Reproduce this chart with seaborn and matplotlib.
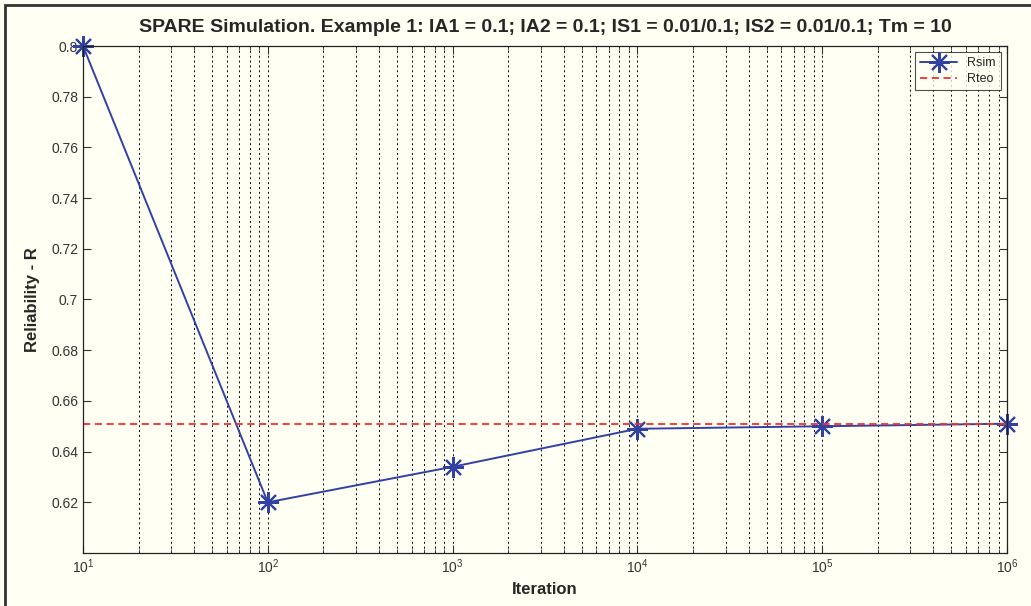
import pandas as pd
import seaborn as sns
import matplotlib.pyplot as plt
from matplotlib.patches import Rectangle
from matplotlib.ticker import LogLocator, NullFormatter

# Data
iterations = [10, 100, 1000, 10000, 100000, 1000000]
r_sim = [0.800, 0.620, 0.634, 0.649, 0.650, 0.651]
r_teo = 0.6508
y_ticks = [0.62, 0.64, 0.66, 0.68, 0.70, 0.72, 0.74, 0.76, 0.78, 0.80]
y_tick_labels = ["0.62", "0.64", "0.66", "0.68", "0.7", "0.72", "0.74", "0.76", "0.78", "0.8"]

df = pd.DataFrame({"Iteration": iterations, "Rsim": r_sim})

sns.set_style("ticks")
plt.rcParams['font.family'] = ['Liberation Sans', 'DejaVu Sans']
bg = '#fffff4'
blue = '#3142a3'

fig = plt.figure(figsize=(10.31, 6.06), dpi=100, facecolor=bg)
ax = fig.add_axes([83 / 1031, 1 - 553 / 606, (1007 - 83) / 1031, (553 - 46) / 606])
ax.set_facecolor(bg)

sns.lineplot(data=df, x="Iteration", y="Rsim", ax=ax, color=blue, linewidth=1.4,
             marker=(8, 2, 0), markersize=15, markeredgewidth=1.5,
             markeredgecolor=blue, label='Rsim')
for ln in ax.lines:
    ln.set_clip_on(False)
ax.axhline(r_teo, color='#f23030', linestyle='--', linewidth=1.3, dashes=(4, 2.5), label='Rteo')

ax.set_xscale('log')
ax.set_xlim(10, 1e6)
ax.set_ylim(0.6, 0.8)
ax.set_yticks(y_ticks)
ax.set_yticklabels(y_tick_labels)
ax.xaxis.set_minor_locator(LogLocator(base=10, subs=range(2, 10)))
ax.xaxis.set_minor_formatter(NullFormatter())
ax.grid(True, which='both', axis='x', color='black', linestyle=(0, (2, 3)), linewidth=0.7)

ax.tick_params(which='both', direction='in', top=True, right=True, labelsize=10, colors='#333333')
ax.tick_params(which='major', length=6)
ax.tick_params(which='minor', length=3)
for s in ax.spines.values():
    s.set_color('#222222')
    s.set_linewidth(0.9)

ax.set_xlabel("Iteration", fontsize=12, fontweight='bold')
ax.set_ylabel("Reliability - R", fontsize=12, fontweight='bold', labelpad=8)
ax.set_title("SPARE Simulation. Example 1: IA1 = 0.1; IA2 = 0.1; IS1 = 0.01/0.1; IS2 = 0.01/0.1; Tm = 10",
             fontsize=14, fontweight='bold', pad=10)

leg = ax.legend(loc='upper right', fontsize=9, frameon=True, fancybox=False,
                handlelength=3, borderpad=0.4, labelspacing=0.3)
leg.get_frame().set_edgecolor('#222222')
leg.get_frame().set_facecolor(bg)
leg.get_frame().set_linewidth(0.8)

# screenshot frame around the figure
fig.patches.append(Rectangle((5 / 1031, -0.01), 1.02, 1 - 5 / 606 + 0.01, transform=fig.transFigure,
                             fill=False, edgecolor='#333333', linewidth=2))

fig.savefig("out.png", dpi=100, facecolor=bg)
